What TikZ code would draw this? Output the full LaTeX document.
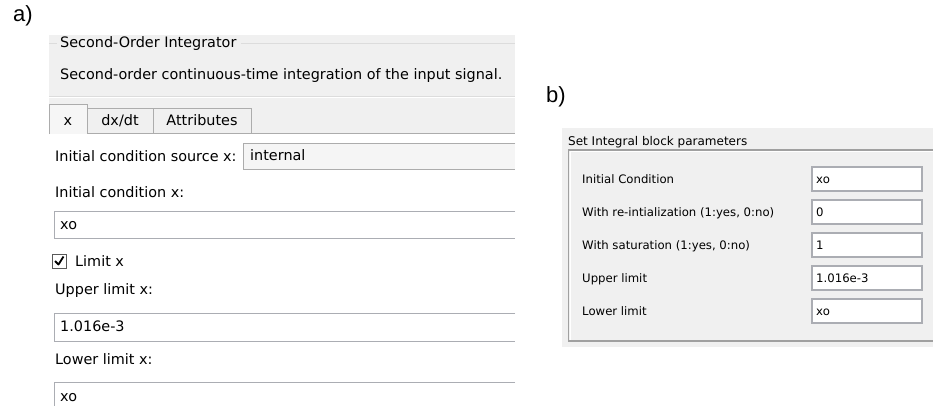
\documentclass[tikz,border=0pt]{standalone}
\usepackage{fontspec}
\setmainfont{DejaVu Sans}
\newfontfamily\uifont{DejaVu Sans}
\newfontfamily\tagfont{Liberation Sans}
\definecolor{panelgrey}{HTML}{F0F0F0}
\definecolor{rulegrey}{HTML}{DCDCDC}
\definecolor{tabedge}{HTML}{ACACAC}
\definecolor{boxedge}{HTML}{ABADB3}
\definecolor{frameedge}{HTML}{A0A0A0}
\definecolor{uitext}{HTML}{000000}
\begin{document}
\begin{tikzpicture}[x=1pt,y=-1pt,
  lbl/.style={anchor=mid west,inner sep=0pt,yshift=-1.5pt,text=uitext,font=\uifont\fontsize{14.4}{16}\selectfont},
  lblb/.style={anchor=mid west,inner sep=0pt,yshift=-1.5pt,text=uitext,font=\uifont\fontsize{11.7}{13}\selectfont},
  tabtxt/.style={anchor=mid,inner sep=0pt,yshift=-1.5pt,text=uitext,font=\uifont\fontsize{14.4}{16}\selectfont},
  tag/.style={anchor=mid west,inner sep=0pt,font=\tagfont\fontsize{22}{24}\selectfont},
  openbox/.style={draw=boxedge,line width=1pt}]
\useasboundingbox[fill=white] (0,0) rectangle (933,405);

% ---------- a) dialog ----------
\node[tag] (taga) at (13,19) {a)};

% header area
\fill[panelgrey] (49,35) rectangle (515,133);
\node[lbl] (grptitle) at (60,43) {Second-Order Integrator};
\coordinate (grpL) at (49,43);
\coordinate (grpR) at (515,43);
\draw[rulegrey] (grpL) -- ([xshift=-3pt]grptitle.west |- grpL);
\draw[rulegrey] ([xshift=4pt]grptitle.east |- grpL) -- (grpR);
\node[lbl] (desc) at (60,75) {Second-order continuous-time integration of the input signal.};
\draw[rulegrey] (49,96) -- (515,96);
\draw[white] (49,97) -- (515,97);

% tab row
\fill[white] (49,134) rectangle (515,140);
\filldraw[fill=panelgrey!60!white,draw=tabedge] (49,134) -- (49,104) -- (87,104) -- (87,134);
\filldraw[fill=panelgrey,draw=tabedge] (87,133) rectangle (153,108);
\filldraw[fill=panelgrey,draw=tabedge] (153,133) rectangle (251,108);
\draw[tabedge] (87,133) -- (515,133);
\node[tabtxt] (tabx) at (68,121) {x};
\node[tabtxt] (tabdx) at (120,121) {dx/dt};
\node[tabtxt] (tabattr) at (202,121) {Attributes};

% initial condition source
\node[lbl] (srclbl) at (55,157) {Initial condition source x:};
\fill[panelgrey!70!white] (243,143) rectangle (515,169);
\draw[tabedge] (515,143) -- (243,143) -- (243,169) -- (515,169);
\node[lbl] (srcval) at (250,156) {internal};

% initial condition
\node[lbl] (iclbl) at (55,193) {Initial condition x:};
\fill[white] (54,211) rectangle (515,238);
\draw[openbox] (515,211) -- (54,211) -- (54,238) -- (515,238);
\node[lbl] (icval) at (60,225) {xo};

% limit checkbox
\filldraw[fill=white,draw=black!65,line width=1pt] (52,254) rectangle (66,268);
\draw[black,line width=1.8pt,line join=round] (55,261) -- (58.5,264.5) -- (63.5,256.5);
\node[lbl] (limlbl) at (75,262) {Limit x};

% upper limit
\node[lbl] (uplbl) at (55,290) {Upper limit x:};
\draw[openbox] (515,313) -- (54,313) -- (54,341) -- (515,341);
\node[lbl] (upval) at (60,327) {1.016e-3};

% lower limit
\node[lbl] (lolbl) at (55,360) {Lower limit x:};
\draw[openbox] (515,382) -- (54,382) -- (54,410);
\node[lbl] (loval) at (60,397) {xo};

% ---------- b) dialog ----------
\node[tag] (tagb) at (546,100) {b)};
\fill[panelgrey] (562,128) rectangle (933,347);
\node[lblb,font=\uifont\fontsize{12}{14}\selectfont] (btitle) at (568,141) {Set Integral block parameters};
\draw[frameedge,line width=1.3pt] (933,150) -- (568.5,150) -- (568.5,341) -- (933,341);
\draw[white,line width=0.8pt] (933,151.5) -- (570,151.5) -- (570,339.5);

\foreach \y/\name/\txt/\val in {
  179/ic/{Initial Condition}/xo,
  212/reinit/{With re-intialization (1:yes, 0:no)}/0,
  245/sat/{With saturation (1:yes, 0:no)}/1,
  278/up/{Upper limit}/1.016e-3,
  311/lo/{Lower limit}/xo}{
  \node[lblb] (b\name lbl) at (582,\y) {\txt};
  \filldraw[fill=white,draw=boxedge,line width=1.2pt] (812,\y-12) rectangle (922,\y+12);
  \node[lblb] (b\name val) at (816,\y) {\val};
}
\end{tikzpicture}
\end{document}
